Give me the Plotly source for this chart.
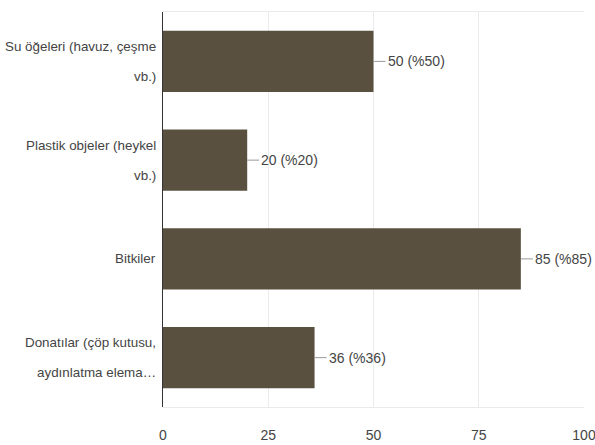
import plotly.graph_objects as go

categories = [
    "Su öğeleri (havuz, çeşme<br>vb.)",
    "Plastik objeler (heykel<br>vb.)",
    "Bitkiler",
    "Donatılar (çöp kutusu,<br>aydınlatma elema…",
]
values = [50, 20, 85, 36]
value_labels = ["50 (%50)", "20 (%20)", "85 (%85)", "36 (%36)"]
x_ticks = [0, 25, 50, 75, 100]

FONT = "Liberation Sans, Arial, sans-serif"
BAR = "#5a5040"
TXT = "#444444"
FS = 14

fig = go.Figure()
fig.add_trace(go.Bar(
    x=values, y=categories, orientation="h",
    marker=dict(color=BAR, line=dict(width=0)),
    hoverinfo="skip",
))

# value labels with short leader lines
for v, c, t in zip(values, categories, value_labels):
    fig.add_annotation(
        x=v, y=c, xref="x", yref="y",
        text=t, showarrow=True, arrowhead=0, arrowwidth=1,
        arrowcolor="#999999", ax=12, ay=0, xanchor="left",
        font=dict(family=FONT, size=FS, color=TXT),
    )

# category labels, one annotation per line for wider line spacing
LINE_GAP = 30
for c in categories:
    lines = c.split("<br>")
    n = len(lines)
    for i, line in enumerate(lines):
        shift = (n - 1) / 2 * LINE_GAP - i * LINE_GAP
        fig.add_annotation(
            x=0, y=c, xref="paper", yref="y",
            text=line, showarrow=False, xanchor="right", yanchor="middle",
            xshift=-5, yshift=shift,
            font=dict(family=FONT, size=13.4, color=TXT),
        )

fig.update_layout(
    width=595, height=445,
    margin=dict(l=163, r=11, t=12, b=38),
    paper_bgcolor="white", plot_bgcolor="white",
    bargap=0.38, showlegend=False,
    font=dict(family=FONT, size=FS, color=TXT),
    xaxis=dict(
        range=[0, 100.001], tickvals=x_ticks, ticktext=[str(t) for t in x_ticks],
        showgrid=True, gridcolor="#ebebeb", gridwidth=1,
        zeroline=False, showline=True, linecolor="#ebebeb", mirror=True,
        ticks="", ticklabelstandoff=15, automargin=False,
        ticklabeloverflow="allow",
        tickfont=dict(family=FONT, size=FS, color=TXT),
    ),
    yaxis=dict(
        autorange="reversed", showgrid=False, zeroline=False,
        showline=True, linecolor="#333333", linewidth=1,
        ticks="", showticklabels=False, automargin=False,
    ),
)

fig.write_html(
    "out.html",
    config={"displayModeBar": False},
    post_script="document.body.style.margin='0';document.body.style.overflow='hidden';",
)
